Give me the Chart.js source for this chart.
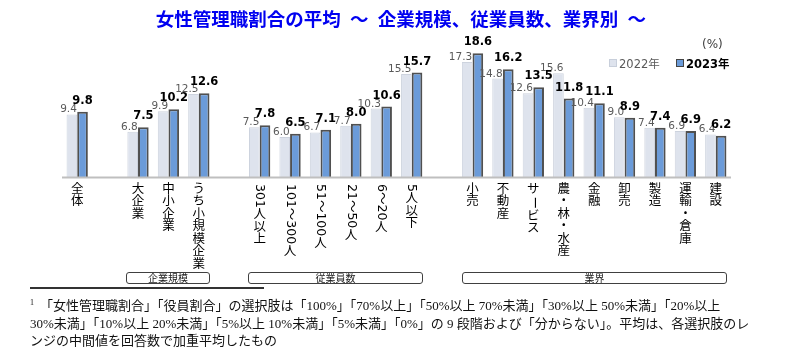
<!DOCTYPE html>
<html>
<head>
<meta charset="utf-8">
<script src="https://cdn.jsdelivr.net/npm/chart.js@4.4.0/dist/chart.umd.min.js"></script>
<style>
  body { margin: 0; background: #fff; }
  #wrap { position: relative; width: 800px; height: 351px; overflow: hidden; font-family: "Noto Sans CJK JP", sans-serif; }
  #chart { position: absolute; left: 0; top: 0; }
  .title { position: absolute; left: 0; width: 802px; top: 6px; text-align: center; color: #0000f0; font-weight: bold; font-size: 18.5px; line-height: 24px; white-space: nowrap; }
  .unit { position: absolute; left: 702px; top: 37px; font-size: 12px; color: #404040; font-family: "DejaVu Sans", sans-serif; }
  .leg { position: absolute; top: 56px; font-size: 11.5px; line-height: 16px; font-family: "DejaVu Sans", "Noto Sans CJK JP", sans-serif; white-space: nowrap; }
  .leg i { display: inline-block; width: 6px; height: 6px; margin-right: 2px; vertical-align: 1px; }
  .box { position: absolute; top: 272px; height: 10px; border: 1.5px solid #404040; border-radius: 3px; font-size: 10px; line-height: 10px; text-align: center; color: #222; }
  .rule { position: absolute; left: 30px; top: 287px; width: 234px; height: 0; border-top: 2px solid #333; }
  .note { position: absolute; left: 30px; top: 294px; font-family: "Liberation Serif", "Noto Sans CJK JP", serif; font-size: 13px; line-height: 17.5px; color: #111; white-space: nowrap; }
  .note sup { font-size: 8px; vertical-align: 5px; margin-right: 6px; }
</style>
</head>
<body>
<div id="wrap">
  <canvas id="chart" width="800" height="351"></canvas>
  <div class="title">女性管理職割合の平均&ensp;～&ensp;企業規模、従業員数、業界別&ensp;～</div>
  <div class="unit">(%)</div>
  <div class="leg" style="left:609px;color:#595959"><i style="background:#dee3ed;border:1px solid #c8cfdb"></i>2022年</div>
  <div class="leg" style="left:676px;color:#000;font-weight:bold"><i style="background:#6b9bd9;border:1px solid #444"></i>2023年</div>
  <div class="box" style="left:126px;width:82px">企業規模</div>
  <div class="box" style="left:248px;width:173px">従業員数</div>
  <div class="box" style="left:462px;width:263px">業界</div>
  <div class="rule"></div>
  <div class="note">
    <div><sup>1</sup>「女性管理職割合」「役員割合」の選択肢は「100%」「70%以上」「50%以上 70%未満」「30%以上 50%未満」「20%以上</div>
    <div>30%未満」「10%以上 20%未満」「5%以上 10%未満」「5%未満」「0%」の 9 段階および「分からない」。平均は、各選択肢のレ</div>
    <div>ンジの中間値を回答数で加重平均したもの</div>
  </div>
</div>
<script>
// categories ("" = spacer slot between groups)
const categories = ["全体", "", "大企業", "中小企業", "うち小規模企業", "",
  "301人以上", "101～300人", "51～100人", "21～50人", "6～20人", "5人以下", "",
  "小売", "不動産", "サービス", "農・林・水産", "金融", "卸売", "製造", "運輸・倉庫", "建設"];
const values2022 = [9.4, null, 6.8, 9.9, 12.5, null,
  7.5, 6.0, 6.7, 7.7, 10.3, 15.5, null,
  17.3, 14.8, 12.6, 15.6, 10.4, 9.0, 7.4, 6.9, 6.4];
const values2023 = [9.8, null, 7.5, 10.2, 12.6, null,
  7.8, 6.5, 7.1, 8.0, 10.6, 15.7, null,
  18.6, 16.2, 13.5, 11.8, 11.1, 8.9, 7.4, 6.9, 6.2];
const seriesNames = ["2022年", "2023年"];

const rotChars = /[0-9～ー~]/;

// tategaki style: kanji upright, digits / long marks turned sideways
function drawVertical(ctx, text, x, y) {
  let i = 0;
  while (i < text.length) {
    if (rotChars.test(text[i])) {
      let run = "";
      while (i < text.length && rotChars.test(text[i])) run += text[i++];
      const w = ctx.measureText(run).width;
      ctx.save();
      ctx.translate(x, y);
      ctx.rotate(Math.PI / 2);
      ctx.textAlign = "left";
      ctx.textBaseline = "middle";
      ctx.fillText(run, 1, 0);
      ctx.restore();
      y += w + 2;
    } else {
      ctx.textAlign = "center";
      ctx.textBaseline = "top";
      ctx.fillText(text[i], x, y);
      y += 12.5;
      i++;
    }
  }
}

const labelsPlugin = {
  id: "labels",
  afterDatasetsDraw(chart) {
    const ctx = chart.ctx;
    const area = chart.chartArea;
    const xScale = chart.scales.x;
    ctx.save();

    // axis line
    ctx.strokeStyle = "#bfbfbf";
    ctx.lineWidth = 2;
    ctx.beginPath();
    ctx.moveTo(area.left, area.bottom + 0.5);
    ctx.lineTo(area.right, area.bottom + 0.5);
    ctx.stroke();

    // value labels
    const m0 = chart.getDatasetMeta(0);
    const m1 = chart.getDatasetMeta(1);
    ctx.textBaseline = "alphabetic";
    m0.data.forEach((bar, i) => {
      if (values2022[i] == null) return;
      ctx.font = "10.5px 'DejaVu Sans'";
      ctx.fillStyle = "#595959";
      ctx.textAlign = "right";
      ctx.fillText(values2022[i].toFixed(1), bar.x + 5, bar.y - 2);
    });
    m1.data.forEach((bar, i) => {
      if (values2023[i] == null) return;
      ctx.font = "bold 11.5px 'DejaVu Sans'";
      ctx.fillStyle = "#000";
      ctx.textAlign = "center";
      ctx.fillText(values2023[i].toFixed(1), bar.x, bar.y - 8);
    });

    // vertical category labels
    ctx.fillStyle = "#000";
    ctx.font = "12.5px 'DejaVu Sans', 'Noto Sans CJK JP'";
    categories.forEach((c, i) => {
      if (!c) return;
      drawVertical(ctx, c, xScale.getPixelForValue(i), area.bottom + 6);
    });
    ctx.restore();
  }
};

new Chart(document.getElementById("chart"), {
  type: "bar",
  data: {
    labels: categories,
    datasets: [
      {
        label: seriesNames[0],
        data: values2022,
        backgroundColor: "#dee3ed",
        borderColor: "#cdd3de",
        borderWidth: 1,
        categoryPercentage: 0.7,
        barPercentage: 1.0,
      },
      {
        label: seriesNames[1],
        data: values2023,
        backgroundColor: "#6b9bd9",
        borderColor: "#505050",
        borderWidth: 2,
        categoryPercentage: 0.7,
        barPercentage: 1.0,
      },
    ],
  },
  options: {
    responsive: false,
    animation: false,
    devicePixelRatio: 1,
    layout: { padding: { left: 62, right: 69, top: 44, bottom: 174 } },
    scales: {
      x: { display: false },
      y: { display: false, min: 0, max: 20 },
    },
    plugins: {
      legend: { display: false },
      tooltip: { enabled: false },
    },
  },
  plugins: [labelsPlugin],
});
</script>
</body>
</html>
